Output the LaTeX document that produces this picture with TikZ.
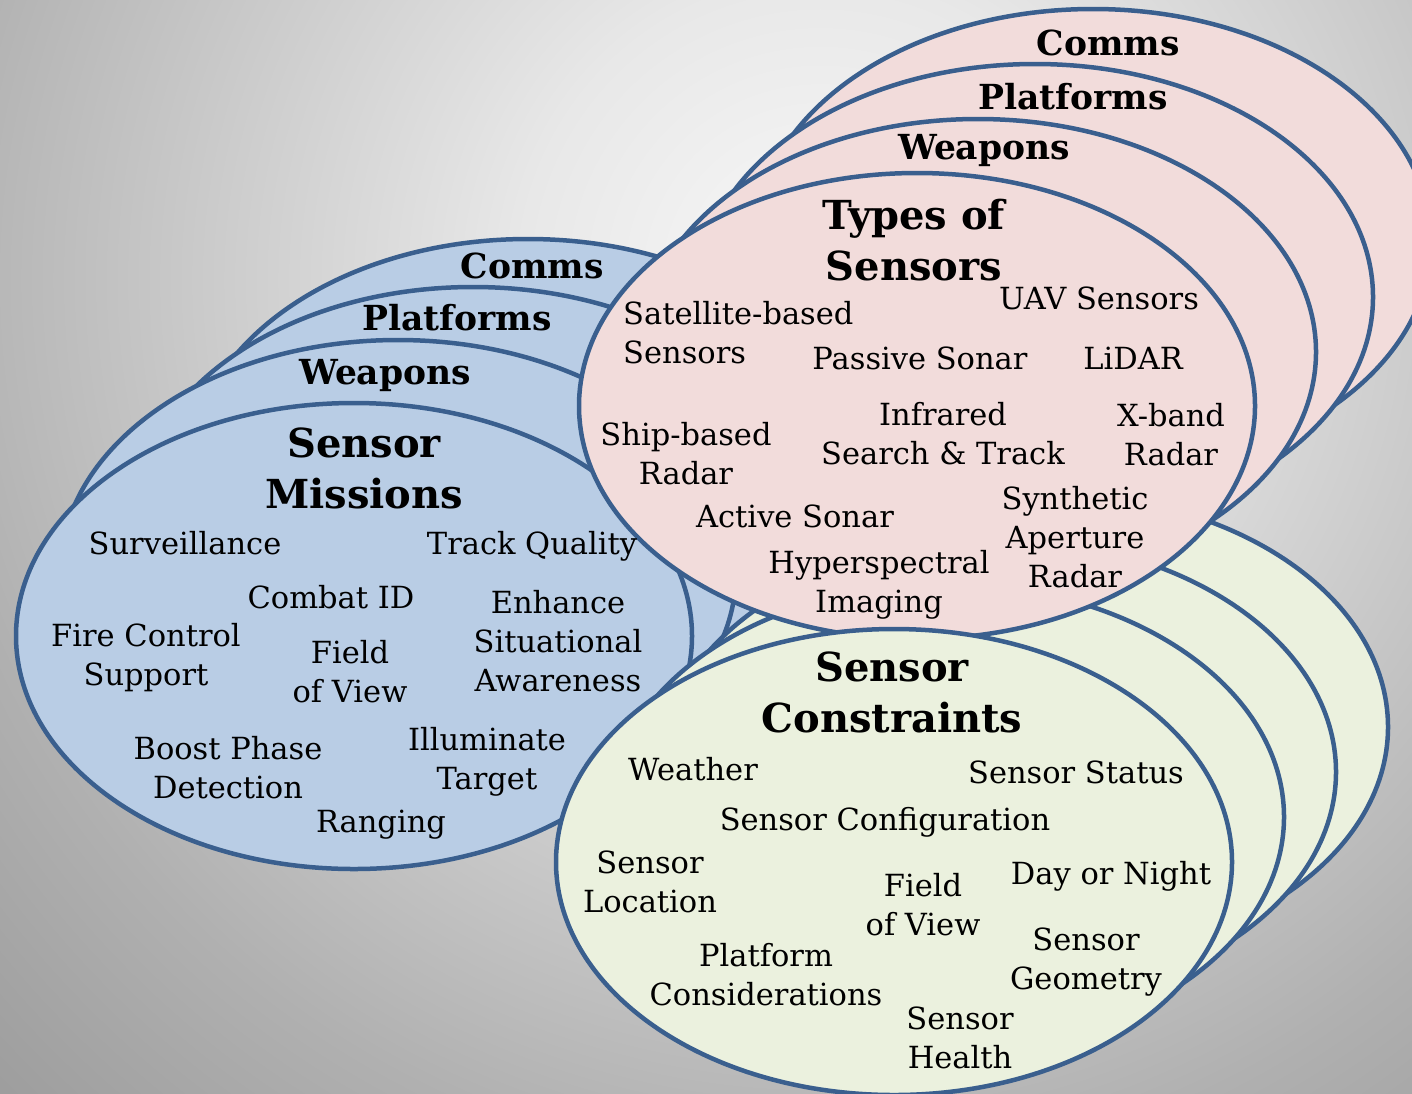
\documentclass[tikz,border=0pt]{standalone}
\usepackage{fontspec}
\setmainfont{DejaVu Serif}
\usetikzlibrary{shapes.geometric}
\definecolor{edge}{HTML}{3A5F8E}
\definecolor{bluef}{HTML}{B9CDE5}
\definecolor{pinkf}{HTML}{F2DCDB}
\definecolor{greenf}{HTML}{EBF1DE}
\definecolor{bgA}{HTML}{F8F8F8}
\definecolor{bgB}{HTML}{E8E8E8}
\definecolor{bgC}{HTML}{CCCCCC}
\definecolor{bgD}{HTML}{B0B0B0}
\definecolor{bgE}{HTML}{9E9E9E}
% square path of half-side 840px: 25bp <-> 840px, 1bp = 33.6px
\pgfdeclareradialshading{bgshade}{\pgfpoint{0bp}{0bp}}{color(0bp)=(bgA); color(8.9bp)=(bgB); color(17.9bp)=(bgC); color(26.8bp)=(bgD); color(34.2bp)=(bgE); color(50bp)=(bgE)}
\begin{document}
\begin{tikzpicture}[x=1pt,y=-1pt,
  oval/.style={ellipse, draw=edge, line width=4.5pt, minimum width=676pt, minimum height=466pt, inner sep=0pt},
  bl/.style={oval, fill=bluef},
  pk/.style={oval, fill=pinkf},
  gr/.style={oval, fill=greenf},
  lyr/.style={font=\bfseries\fontsize{34.5}{40}\selectfont, inner sep=0pt},
  ttl/.style={font=\bfseries\fontsize{40}{51}\selectfont, align=center, inner sep=0pt},
  itm/.style={font=\fontsize{30.5}{39}\selectfont, align=center, inner sep=0pt},
  itml/.style={font=\fontsize{30.5}{39}\selectfont, align=left, inner sep=0pt}]
\useasboundingbox (0,0) rectangle (1412,1093);
\begin{scope}
  \clip (0,0) rectangle (1412,1093);
  \shade[shading=bgshade] (-20,-560) rectangle (1660,1120);
\end{scope}
% blue group
\node[bl] (bc) at (528,472) {};
\node[bl] (bp) at (473,520) {};
\node[bl] (bw) at (398,573) {};
\node[bl] (bf) at (354,636) {};
% green back layers
\node[gr] (g3) at (1050,727) {};
\node[gr] (g2) at (998,772) {};
\node[gr] (g1) at (946,817) {};
% pink group
\node[pk] (pc) at (1093,242) {};
\node[pk] (pp) at (1035,297) {};
\node[pk] (pw) at (978,352) {};
\node[pk] (pf) at (917,406) {};
% green front
\node[gr] (gf) at (894,862) {};
% blue texts
\node[lyr] (tbc) at (532,266) {Comms};
\node[lyr] (tbp) at (457,318) {Platforms};
\node[lyr] (tbw) at (385,376) {Weapons};
\node[ttl] (tbt) at (364,468) {Sensor\\Missions};
\node[itm] (b1) at (185,543) {Surveillance};
\node[itm] (b2) at (532,546) {Track Quality};
\node[itm] (b3) at (331,597) {Combat ID};
\node[itm] (b4) at (558,641) {Enhance\\Situational\\Awareness};
\node[itm] (b5) at (146,658) {Fire Control\\Support};
\node[itm] (b6) at (350,672) {Field\\of View};
\node[itm] (b7) at (228,768) {Boost Phase\\Detection};
\node[itm] (b8) at (487,762) {Illuminate\\Target};
\node[itm] (b9) at (381,825) {Ranging};
% pink texts
\node[lyr] (tpc) at (1108,43) {Comms};
\node[lyr] (tpp) at (1073,97) {Platforms};
\node[lyr] (tpw) at (984,151) {Weapons};
\node[ttl] (tpt) at (914,240) {Types of\\Sensors};
\node[itml, anchor=west] (p1) at (623,333) {Satellite-based\\Sensors};
\node[itm] (p2) at (1099,298) {UAV Sensors};
\node[itm] (p3) at (920,358) {Passive Sonar};
\node[itm] (p4) at (1133,358) {LiDAR};
\node[itm] (p5) at (686,454) {Ship-based\\Radar};
\node[itm] (p6) at (943,434) {Infrared\\Search \& Track};
\node[itm] (p7) at (1171,435) {X-band\\Radar};
\node[itm] (p8) at (795,516) {Active Sonar};
\node[itm] (p9) at (1075,537) {Synthetic\\Aperture\\Radar};
\node[itm] (p10) at (879,585) {Hyperspectral\\Imaging};
% green texts
\node[ttl] (tgt) at (892,692) {Sensor\\Constraints};
\node[itm] (g01) at (693,769) {Weather};
\node[itm] (g02) at (1076,772) {Sensor Status};
\node[itm] (g03) at (885,822) {Sensor Configuration};
\node[itm] (g04) at (650,882) {Sensor\\Location};
\node[itm] (g05) at (923,905) {Field\\of View};
\node[itm] (g06) at (1111,876) {Day or Night};
\node[itm] (g07) at (1086,962) {Sensor\\Geometry};
\node[itm] (g08) at (766,975) {Platform\\Considerations};
\node[itm] (g09) at (960,1038) {Sensor\\Health};
\end{tikzpicture}
\end{document}
